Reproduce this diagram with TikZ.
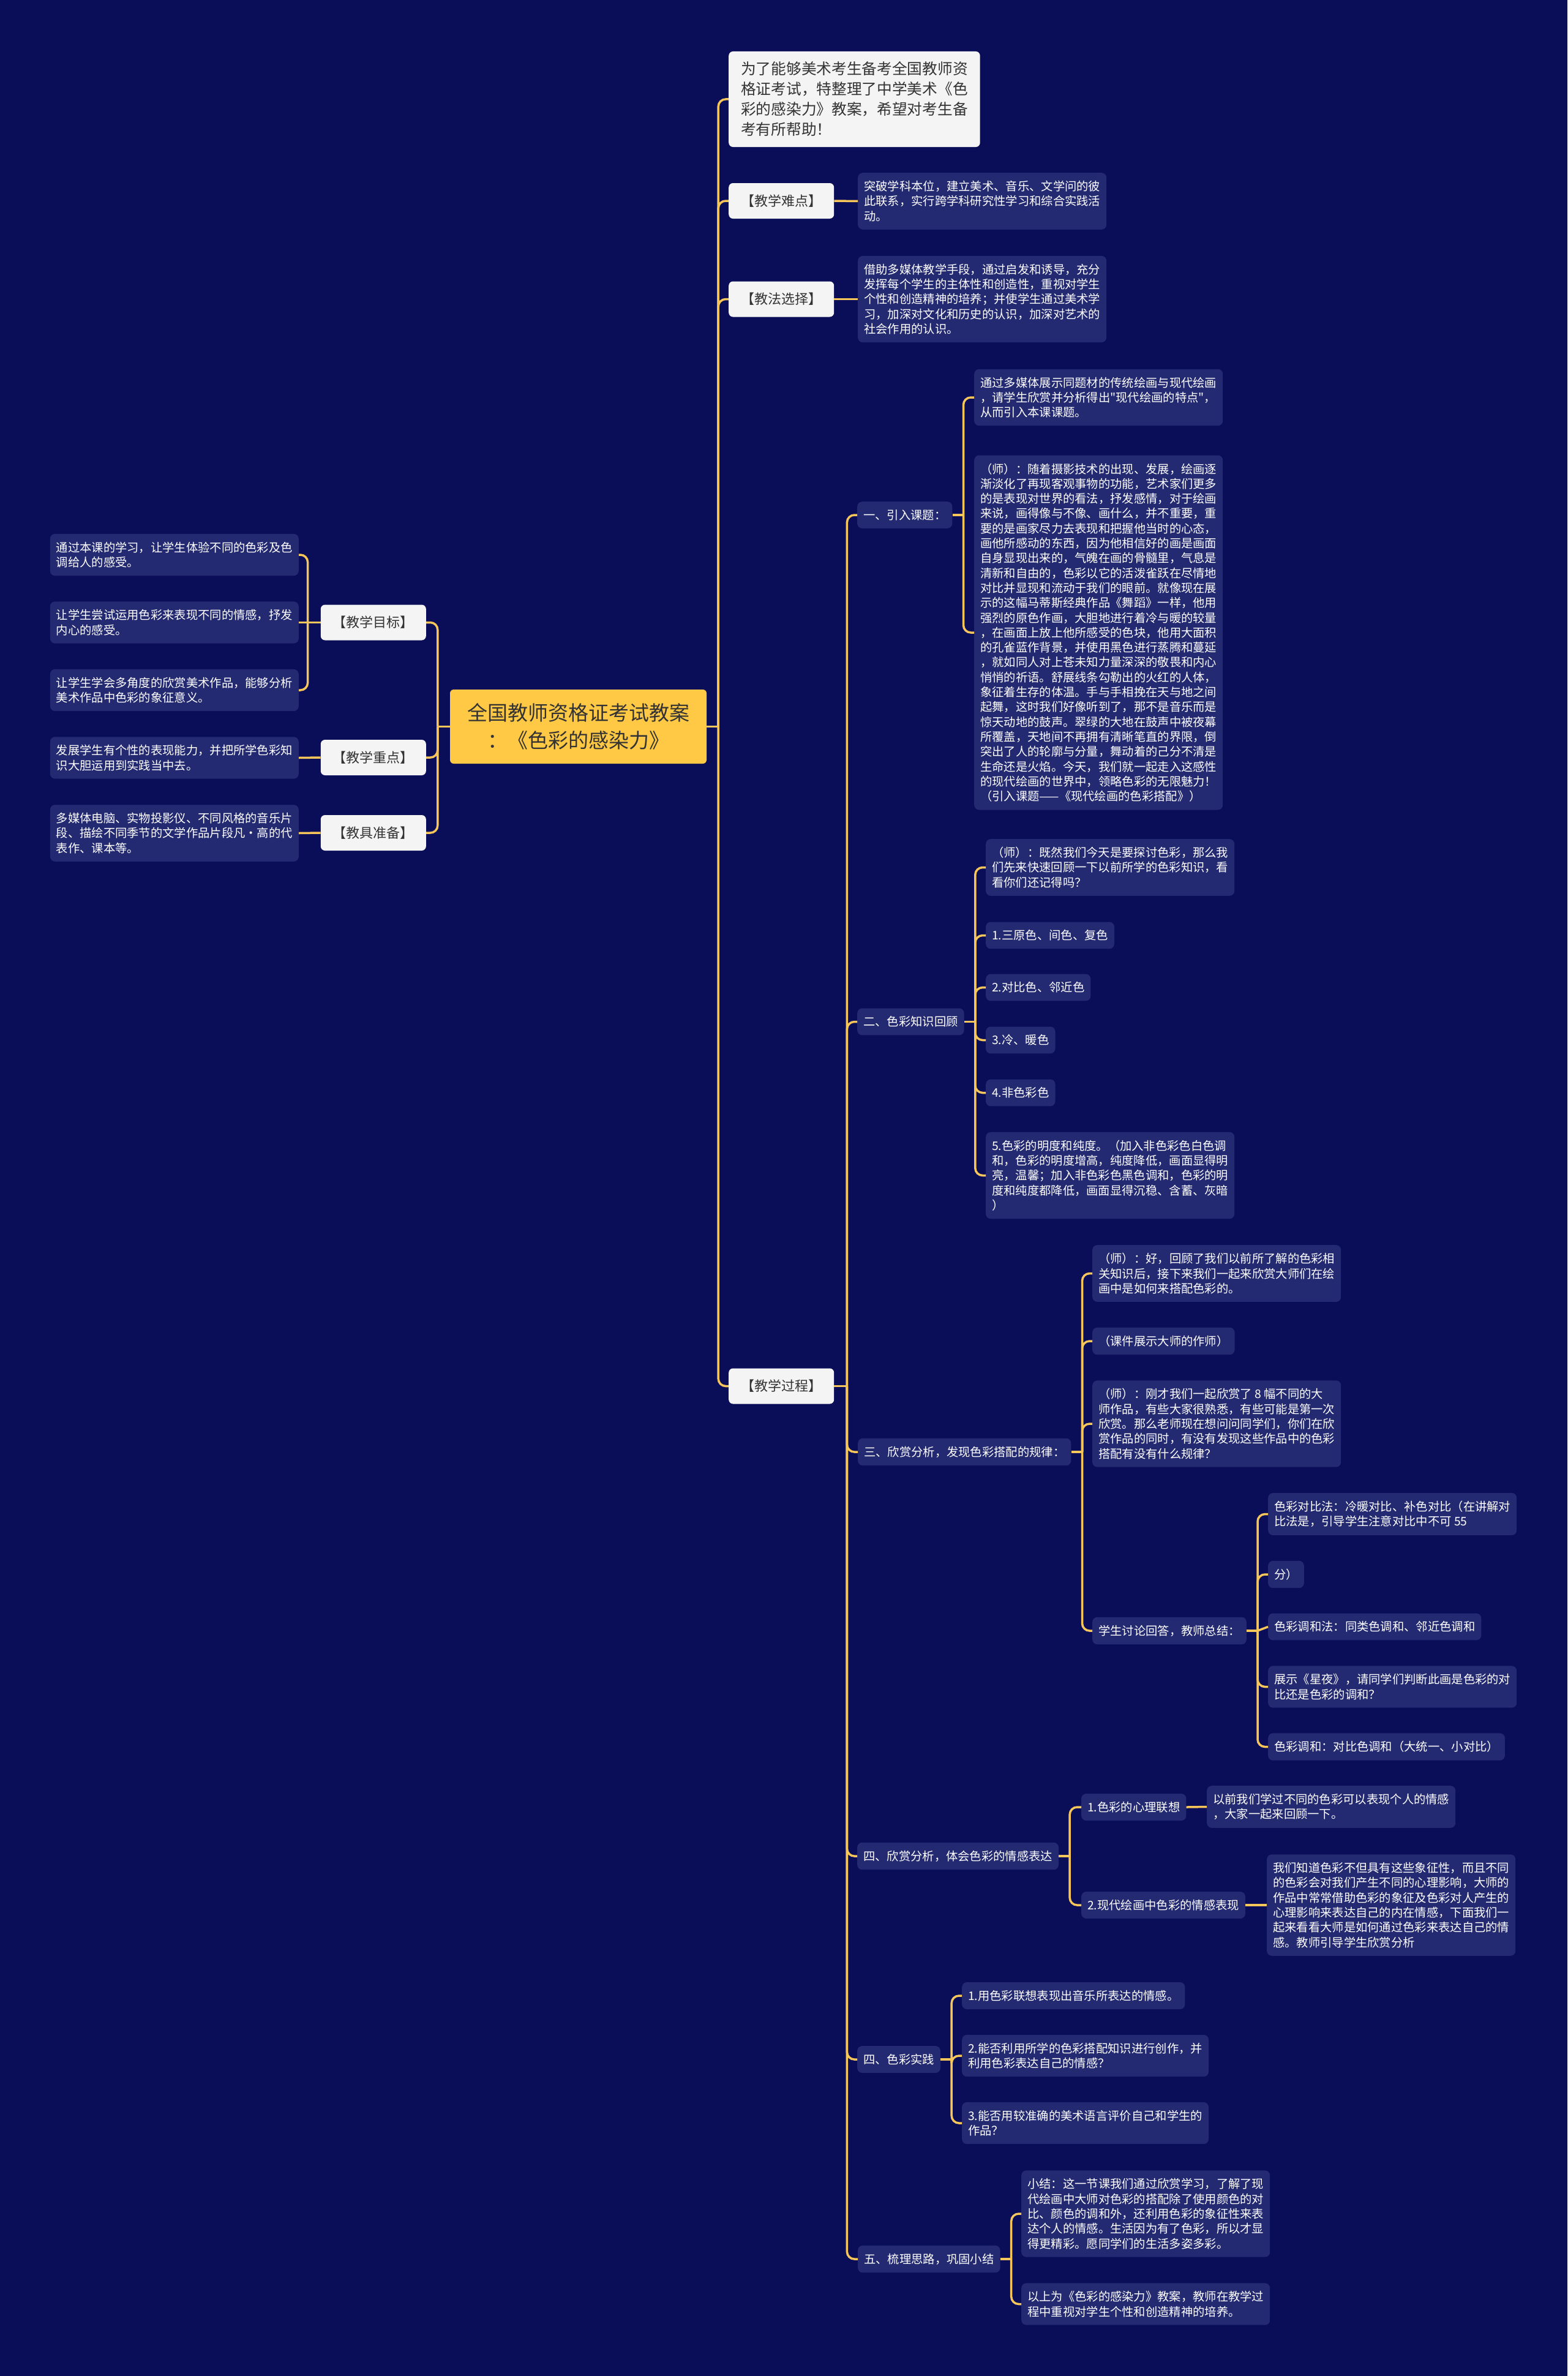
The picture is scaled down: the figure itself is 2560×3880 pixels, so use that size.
\documentclass[tikz,border=0pt]{standalone}
\usepackage{fontspec}
\newfontfamily\cjk{Noto Sans CJK SC}
\usepackage{xcolor}
\definecolor{NightBlue}{HTML}{0A0E58}
\definecolor{LeafBlue}{HTML}{232A72}
\definecolor{LinkGold}{HTML}{F6C65A}
\definecolor{RootYellow}{HTML}{FFC845}
\definecolor{PaperWhite}{HTML}{F4F4F4}
\definecolor{InkGray}{HTML}{333333}
\usepackage{tikz}

\tikzset{
  leaf/.style={fill=LeafBlue, text=white, rounded corners=8pt, align=left,
    inner xsep=10pt, inner ysep=13pt, font=\cjk\fontsize{19.3pt}{24.3pt}\selectfont},
  topic/.style={fill=PaperWhite, text=InkGray, rounded corners=7pt, inner sep=0pt,
    minimum width=172pt, minimum height=58pt, font=\cjk\fontsize{22pt}{26pt}\selectfont},
  rootbox/.style={fill=RootYellow, text=InkGray, rounded corners=6pt, align=center,
    minimum width=419pt, minimum height=121pt, font=\cjk\fontsize{33pt}{45pt}\selectfont},
  notebox/.style={fill=PaperWhite, text=InkGray, rounded corners=7pt, align=left,
    inner xsep=20pt, inner ysep=17pt, font=\cjk\fontsize{24.7pt}{33pt}\selectfont},
  link/.style={draw=LinkGold, line width=3.5pt},
  fork/.style={link, rounded corners=12pt},
}

\begin{document}
\begin{tikzpicture}[x=1pt, y=-1pt]
  \fill[NightBlue] (0,0) rectangle (2560,3880);
  \useasboundingbox (0,0) rectangle (2560,3880);

  % root and left side
  \node[rootbox] (root) at (944.5,1186.5) {全国教师资格证考试教案\\：《色彩的感染力》};

  \node[topic, anchor=east] (goal) at (696,1016.5) {【教学目标】};
  \node[topic, anchor=east] (keypt) at (696,1237) {【教学重点】};
  \node[topic, anchor=east] (tools) at (696,1360) {【教具准备】};

  \node[leaf, anchor=east] (goal1) at (488,906) {通过本课的学习，让学生体验不同的色彩及色\\
    调给人的感受。};
  \node[leaf, anchor=east] (goal2) at (488,1016.5) {让学生尝试运用色彩来表现不同的情感，抒发\\
    内心的感受。};
  \node[leaf, anchor=east] (goal3) at (488,1127) {让学生学会多角度的欣赏美术作品，能够分析\\
    美术作品中色彩的象征意义。};
  \node[leaf, anchor=east] (keypt1) at (488,1237.5) {发展学生有个性的表现能力，并把所学色彩知\\
    识大胆运用到实践当中去。};
  \node[leaf, anchor=east] (tools1) at (488,1360.5) {多媒体电脑、实物投影仪、不同风格的音乐片\\
    段、描绘不同季节的文学作品片段凡•高的代\\
    表作、课本等。};

  % right side, upper part
  \node[notebox, anchor=west] (intro) at (1190,162) {为了能够美术考生备考全国教师资\\
    格证考试，特整理了中学美术《色\\
    彩的感染力》教案，希望对考生备\\
    考有所帮助！};
  \node[topic, anchor=west] (hard) at (1190,328) {【教学难点】};
  \node[topic, anchor=west] (method) at (1190,488.5) {【教法选择】};
  \node[topic, anchor=west] (process) at (1190,2263.5) {【教学过程】};

  \node[leaf, anchor=west] (hard1) at (1401,328.5) {突破学科本位，建立美术、音乐、文学问的彼\\
    此联系，实行跨学科研究性学习和综合实践活\\
    动。};
  \node[leaf, anchor=west] (method1) at (1401,488.5) {借助多媒体教学手段，通过启发和诱导，充分\\
    发挥每个学生的主体性和创造性，重视对学生\\
    个性和创造精神的培养；并使学生通过美术学\\
    习，加深对文化和历史的认识，加深对艺术的\\
    社会作用的认识。};

  % teaching process sections
  \node[leaf, anchor=west] (s1) at (1400,841) {一、引入课题：};
  \node[leaf, anchor=west] (s2) at (1400,1668.5) {二、色彩知识回顾};
  \node[leaf, anchor=west] (s3) at (1401,2371) {三、欣赏分析，发现色彩搭配的规律：};
  \node[leaf, anchor=west] (s4) at (1400,3031) {四、欣赏分析，体会色彩的情感表达};
  \node[leaf, anchor=west] (s5) at (1400,3363) {四、色彩实践};
  \node[leaf, anchor=west] (s6) at (1401,3689) {五、梳理思路，巩固小结};

  % section one
  \node[leaf, anchor=west] (s1a) at (1591,649) {通过多媒体展示同题材的传统绘画与现代绘画\\
    ，请学生欣赏并分析得出"现代绘画的特点"，\\
    从而引入本课课题。};
  \node[leaf, anchor=west] (s1b) at (1591,1033) {（师）：随着摄影技术的出现、发展，绘画逐\\
    渐淡化了再现客观事物的功能，艺术家们更多\\
    的是表现对世界的看法，抒发感情，对于绘画\\
    来说，画得像与不像、画什么，并不重要，重\\
    要的是画家尽力去表现和把握他当时的心态，\\
    画他所感动的东西，因为他相信好的画是画面\\
    自身显现出来的，气魄在画的骨髓里，气息是\\
    清新和自由的，色彩以它的活泼雀跃在尽情地\\
    对比并显现和流动于我们的眼前。就像现在展\\
    示的这幅马蒂斯经典作品《舞蹈》一样，他用\\
    强烈的原色作画，大胆地进行着冷与暖的较量\\
    ，在画面上放上他所感受的色块，他用大面积\\
    的孔雀蓝作背景，并使用黑色进行蒸腾和蔓延\\
    ，就如同人对上苍未知力量深深的敬畏和内心\\
    悄悄的祈语。舒展线条勾勒出的火红的人体，\\
    象征着生存的体温。手与手相挽在天与地之间\\
    起舞，这时我们好像听到了，那不是音乐而是\\
    惊天动地的鼓声。翠绿的大地在鼓声中被夜幕\\
    所覆盖，天地间不再拥有清晰笔直的界限，倒\\
    突出了人的轮廓与分量，舞动着的己分不清是\\
    生命还是火焰。今天，我们就一起走入这感性\\
    的现代绘画的世界中，领略色彩的无限魅力！\\
    （引入课题——《现代绘画的色彩搭配》）};

  % section two
  \node[leaf, anchor=west] (s2a) at (1610,1416.5) {（师）：既然我们今天是要探讨色彩，那么我\\
    们先来快速回顾一下以前所学的色彩知识，看\\
    看你们还记得吗？};
  \node[leaf, anchor=west] (s2b) at (1610,1527.5) {1.三原色、间色、复色};
  \node[leaf, anchor=west] (s2c) at (1610,1612.5) {2.对比色、邻近色};
  \node[leaf, anchor=west] (s2d) at (1610,1698.5) {3.冷、暖色};
  \node[leaf, anchor=west] (s2e) at (1610,1784.5) {4.非色彩色};
  \node[leaf, anchor=west] (s2f) at (1610,1919.5) {5.色彩的明度和纯度。（加入非色彩色白色调\\
    和，色彩的明度增高，纯度降低，画面显得明\\
    亮，温馨；加入非色彩色黑色调和，色彩的明\\
    度和纯度都降低，画面显得沉稳、含蓄、灰暗\\
    ）};

  % section three
  \node[leaf, anchor=west] (s3a) at (1784,2079.5) {（师）：好，回顾了我们以前所了解的色彩相\\
    关知识后，接下来我们一起来欣赏大师们在绘\\
    画中是如何来搭配色彩的。};
  \node[leaf, anchor=west] (s3b) at (1784,2190) {（课件展示大师的作师）};
  \node[leaf, anchor=west] (s3c) at (1784,2325) {（师）：刚才我们一起欣赏了 8 幅不同的大\\
    师作品，有些大家很熟悉，有些可能是第一次\\
    欣赏。那么老师现在想问问同学们，你们在欣\\
    赏作品的同时，有没有发现这些作品中的色彩\\
    搭配有没有什么规律？};
  \node[leaf, anchor=west] (s3d) at (1784,2663) {学生讨论回答，教师总结：};

  \node[leaf, anchor=west] (s3d1) at (2071,2472.5) {色彩对比法：冷暖对比、补色对比（在讲解对\\
    比法是，引导学生注意对比中不可 55};
  \node[leaf, anchor=west] (s3d2) at (2071,2571) {分）};
  \node[leaf, anchor=west] (s3d3) at (2071,2656.5) {色彩调和法：同类色调和、邻近色调和};
  \node[leaf, anchor=west] (s3d4) at (2071,2754.5) {展示《星夜》，请同学们判断此画是色彩的对\\
    比还是色彩的调和？};
  \node[leaf, anchor=west] (s3d5) at (2071,2852.5) {色彩调和：对比色调和（大统一、小对比）};

  % section four
  \node[leaf, anchor=west] (s4a) at (1766,2951) {1.色彩的心理联想};
  \node[leaf, anchor=west] (s4b) at (1766,3111) {2.现代绘画中色彩的情感表现};
  \node[leaf, anchor=west] (s4a1) at (1971,2950.5) {以前我们学过不同的色彩可以表现个人的情感\\
    ，大家一起来回顾一下。};
  \node[leaf, anchor=west] (s4b1) at (2069,3111) {我们知道色彩不但具有这些象征性，而且不同\\
    的色彩会对我们产生不同的心理影响，大师的\\
    作品中常常借助色彩的象征及色彩对人产生的\\
    心理影响来表达自己的内在情感，下面我们一\\
    起来看看大师是如何通过色彩来表达自己的情\\
    感。教师引导学生欣赏分析};

  % colour practice
  \node[leaf, anchor=west] (s5a) at (1571,3259) {1.用色彩联想表现出音乐所表达的情感。};
  \node[leaf, anchor=west] (s5b) at (1571,3357) {2.能否利用所学的色彩搭配知识进行创作，并\\
    利用色彩表达自己的情感？};
  \node[leaf, anchor=west] (s5c) at (1571,3467) {3.能否用较准确的美术语言评价自己和学生的\\
    作品？};

  % summary
  \node[leaf, anchor=west] (s6a) at (1668,3615) {小结：这一节课我们通过欣赏学习，了解了现\\
    代绘画中大师对色彩的搭配除了使用颜色的对\\
    比、颜色的调和外，还利用色彩的象征性来表\\
    达个人的情感。生活因为有了色彩，所以才显\\
    得更精彩。愿同学们的生活多姿多彩。};
  \node[leaf, anchor=west] (s6b) at (1668,3762.5) {以上为《色彩的感染力》教案，教师在教学过\\
    程中重视对学生个性和创造精神的培养。};

  % connectors
  \draw[link] (root.west) -- ++(-20,0) coordinate (lj);
  \foreach \n in {goal,keypt,tools} \draw[fork] (lj) |- (\n.east);
  \draw[link] (goal.west) -- ++(-21,0) coordinate (gj);
  \foreach \n in {goal1,goal3} \draw[fork] (gj) |- (\n.east);
  \draw[link] (gj) -- (goal2.east);
  \draw[link] (keypt.west) -- (keypt1.east);
  \draw[link] (tools.west) -- (tools1.east);

  \draw[link] (root.east) -- ++(19,0) coordinate (rj);
  \foreach \n in {intro,hard,method,process} \draw[fork] (rj) |- (\n.west);
  \draw[link] (hard.east) -- (hard1.west);
  \draw[link] (method.east) -- (method1.west);

  \draw[link] (process.east) -- ++(21,0) coordinate (pj);
  \foreach \n in {s1,s2,s3,s4,s5,s6} \draw[fork] (pj) |- (\n.west);

  \draw[link] (s1.east) -- ++(18,0) coordinate (s1j);
  \foreach \n in {s1a,s1b} \draw[fork] (s1j) |- (\n.west);
  \draw[link] (s2.east) -- ++(18,0) coordinate (s2j);
  \foreach \n in {s2a,s2b,s2c,s2d,s2e,s2f} \draw[fork] (s2j) |- (\n.west);
  \draw[link] (s3.east) -- ++(18,0) coordinate (s3j);
  \foreach \n in {s3a,s3b,s3c,s3d} \draw[fork] (s3j) |- (\n.west);
  \draw[link] (s3d.east) -- ++(18,0) coordinate (s3dj);
  \foreach \n in {s3d1,s3d2,s3d4,s3d5} \draw[fork] (s3dj) |- (\n.west);
  \draw[link] (s3dj) -- (s3d3.west);
  \draw[link] (s4.east) -- ++(18,0) coordinate (s4j);
  \foreach \n in {s4a,s4b} \draw[fork] (s4j) |- (\n.west);
  \draw[link] (s4a.east) -- (s4a1.west);
  \draw[link] (s4b.east) -- (s4b1.west);
  \draw[link] (s5.east) -- ++(18,0) coordinate (s5j);
  \foreach \n in {s5a,s5b,s5c} \draw[fork] (s5j) |- (\n.west);
  \draw[link] (s6.east) -- ++(18,0) coordinate (s6j);
  \foreach \n in {s6a,s6b} \draw[fork] (s6j) |- (\n.west);
\end{tikzpicture}
\end{document}
